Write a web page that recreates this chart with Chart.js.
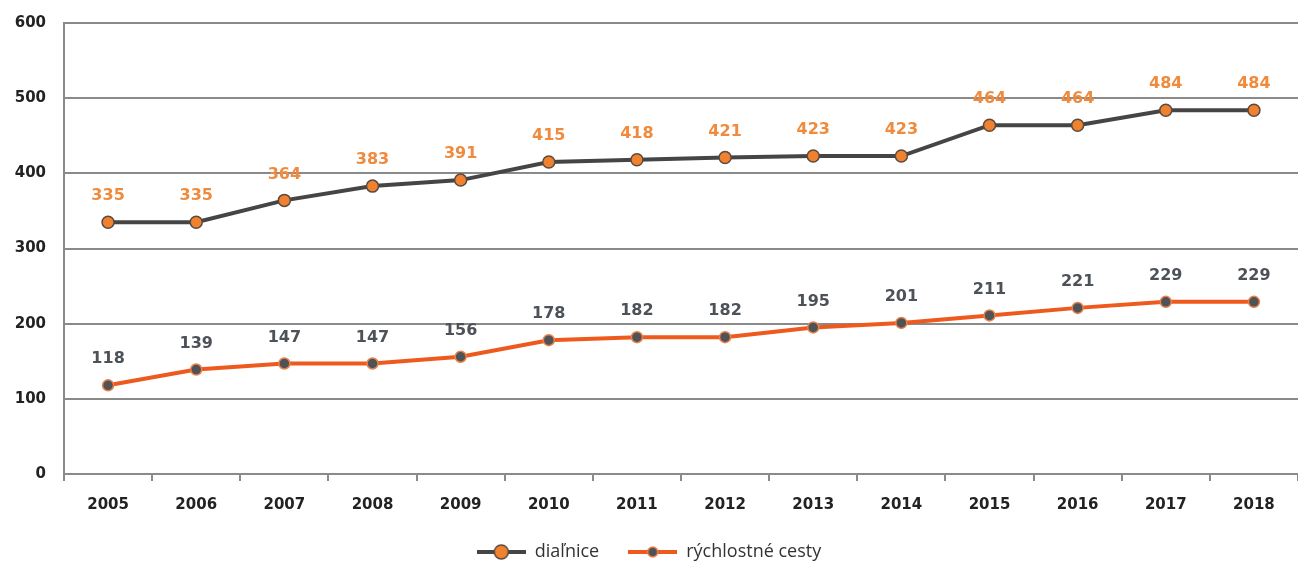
<!DOCTYPE html>
<html>
<head>
<meta charset="utf-8">
<script src="https://cdn.jsdelivr.net/npm/chart.js@4/dist/chart.umd.min.js"></script>
<style>
  html, body { margin: 0; padding: 0; background: #fff; }
  #wrap { width: 1298px; height: 565px; }
</style>
</head>
<body>
<div id="wrap"><canvas id="myChart"></canvas></div>
<script>
var years = ['2005', '2006', '2007', '2008', '2009', '2010', '2011', '2012', '2013', '2014', '2015', '2016', '2017', '2018'];
var dialnice = [335, 335, 364, 383, 391, 415, 418, 421, 423, 423, 464, 464, 484, 484];
var rychlostne = [118, 139, 147, 147, 156, 178, 182, 182, 195, 201, 211, 221, 229, 229];
var yTicks = [0, 100, 200, 300, 400, 500, 600];

var grey = '#454545';
var orange = '#F0822F';
var red = '#EE5A1E';

// small line-with-dot picture for the legend entries
function legendIcon(lineColor, dotColor, borderColor, r) {
    var c = document.createElement('canvas');
    c.width = 49; c.height = 16;
    var g = c.getContext('2d');
    g.strokeStyle = lineColor;
    g.lineWidth = 4;
    g.beginPath(); g.moveTo(0, 8); g.lineTo(49, 8); g.stroke();
    g.fillStyle = dotColor;
    g.strokeStyle = borderColor;
    g.lineWidth = 1.5;
    g.beginPath(); g.arc(24.5, 8, r, 0, Math.PI * 2); g.fill(); g.stroke();
    return c;
}

// numbers above every point
var valueLabels = {
    id: 'valueLabels',
    afterDatasetsDraw: function (chart) {
        var ctx = chart.ctx;
        ctx.save();
        ctx.font = 'bold 16px "DejaVu Sans"';
        ctx.textAlign = 'center';
        ctx.textBaseline = 'middle';
        chart.data.datasets.forEach(function (ds, i) {
            var meta = chart.getDatasetMeta(i);
            ctx.fillStyle = ds.labelColor;
            meta.data.forEach(function (pt, j) {
                ctx.fillText(ds.data[j], pt.x, pt.y - 26);
            });
        });
        ctx.restore();
    }
};

var ctx = document.getElementById('myChart');
var chart = new Chart(ctx, {
    type: 'line',
    data: {
        labels: years,
        datasets: [{
            label: 'diaľnice',
            data: dialnice,
            borderColor: grey,
            borderWidth: 4,
            pointBackgroundColor: orange,
            pointBorderColor: '#5a4a40',
            pointBorderWidth: 1.5,
            pointRadius: 6,
            labelColor: '#F08A3C',
            icon: legendIcon(grey, orange, '#5a4a40', 7)
        }, {
            label: 'rýchlostné cesty',
            data: rychlostne,
            borderColor: red,
            borderWidth: 4,
            pointBackgroundColor: '#4f5257',
            pointBorderColor: '#E8834A',
            pointBorderWidth: 1.5,
            pointRadius: 5.5,
            labelColor: '#4d5258',
            icon: legendIcon(red, '#4f5257', '#E8834A', 5)
        }]
    },
    options: {
        responsive: true,
        maintainAspectRatio: false,
        animation: false,
        layout: { autoPadding: false, padding: { top: 23, right: 0, left: 0, bottom: 0 } },
        plugins: {
            tooltip: { enabled: false },
            legend: {
                position: 'bottom',
                labels: {
                    usePointStyle: true,
                    pointStyleWidth: 49,
                    boxHeight: 16,
                    padding: 29,
                    color: '#333',
                    font: { family: '"Open Sans"', size: 18 },
                    generateLabels: function (chart) {
                        return chart.data.datasets.map(function (ds, i) {
                            return {
                                text: ds.label,
                                pointStyle: ds.icon,
                                fillStyle: 'transparent',
                                strokeStyle: 'transparent',
                                lineWidth: 0,
                                fontColor: '#333',
                                datasetIndex: i
                            };
                        });
                    }
                }
            }
        },
        scales: {
            x: {
                offset: true,
                afterFit: function (scale) {
                    scale.paddingLeft = 0;
                    scale.paddingRight = 0;
                    scale.height = 40;
                },
                grid: {
                    offset: true,
                    drawOnChartArea: false,
                    drawTicks: true,
                    tickLength: 7,
                    color: '#8a8a8a',
                    lineWidth: 2
                },
                border: { display: true, color: '#8a8a8a', width: 2 },
                ticks: {
                    color: '#222',
                    padding: 15,
                    font: { family: '"DejaVu Sans"', size: 15, weight: 'bold' }
                }
            },
            y: {
                min: 0,
                max: 600,
                afterBuildTicks: function (scale) {
                    scale.ticks = yTicks.map(function (v) { return { value: v }; });
                },
                afterFit: function (scale) {
                    scale.width = 64;
                    scale.paddingTop = 0;
                    scale.paddingBottom = 0;
                },
                grid: {
                    color: '#8a8a8a',
                    lineWidth: 2,
                    drawTicks: false
                },
                border: { display: true, color: '#8a8a8a', width: 2 },
                ticks: {
                    color: '#222',
                    padding: 18,
                    font: { family: '"DejaVu Sans"', size: 15, weight: 'bold' }
                }
            }
        }
    },
    plugins: [valueLabels]
});

// keep the legend strip a fixed height
var legendFit = chart.legend.fit;
chart.legend.fit = function () {
    legendFit.call(this);
    this.height = 51;
};
chart.update();
</script>
</body>
</html>
